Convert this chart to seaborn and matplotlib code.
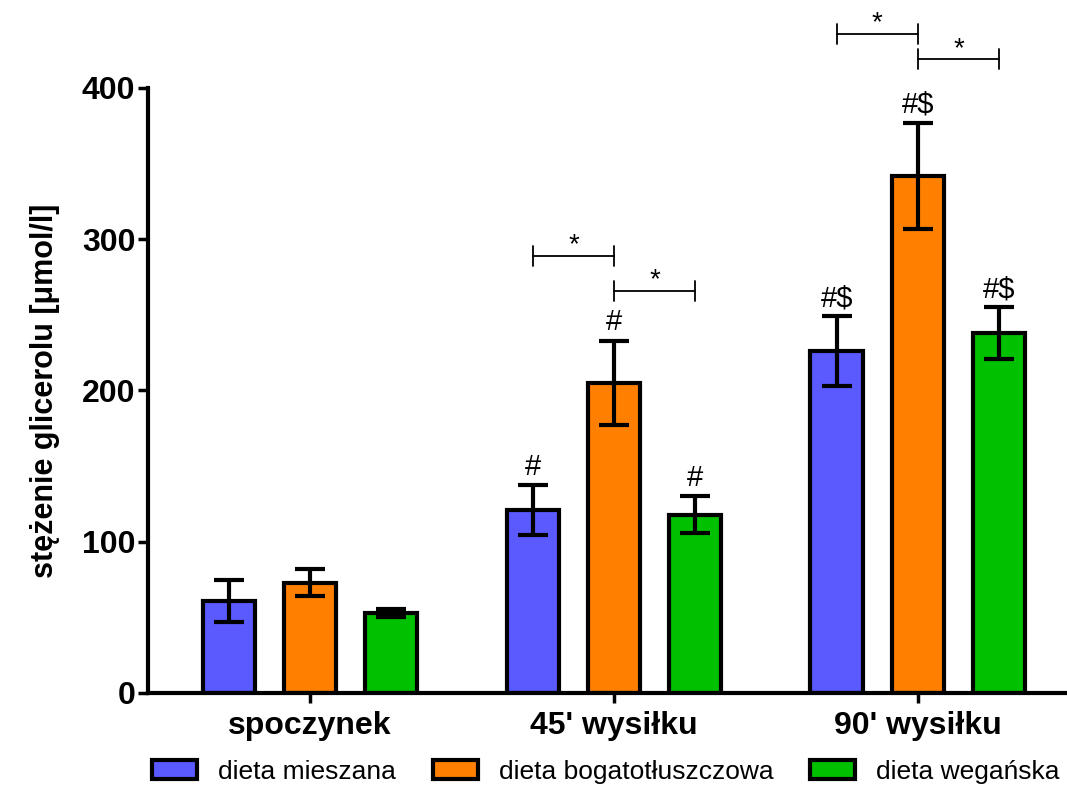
import seaborn as sns
import pandas as pd
import matplotlib.pyplot as plt
import matplotlib.patches as mpatches

# dane
czasy = ["spoczynek", "45' wysiłku", "90' wysiłku"]
diety = ["dieta mieszana", "dieta bogatotłuszczowa", "dieta wegańska"]
kolory = ["#5a5aff", "#ff8000", "#00c000"]

srednie_mieszana = [61, 121, 226]
srednie_bogatotl = [73, 205, 342]
srednie_weganska = [53, 118, 238]

blad_mieszana = [14, 16.5, 23]
blad_bogatotl = [9, 28, 35]
blad_weganska = [2.5, 12, 17]

# znaczniki nad słupkami (dla każdego czasu)
znaczniki = ["", "#", "#$"]
# klamry z gwiazdką: (indeks czasu, dieta od, dieta do, poziom y)
klamry_czas = [1, 1, 2, 2]
klamry_od = [0, 1, 0, 1]
klamry_do = [1, 2, 1, 2]
klamry_y = [289, 266, 436, 419]

df = pd.DataFrame({
    'czas': czasy * 3,
    'dieta': [d for d in diety for _ in czasy],
    'stezenie': srednie_mieszana + srednie_bogatotl + srednie_weganska,
    'blad': blad_mieszana + blad_bogatotl + blad_weganska,
})

sns.set_style('ticks')
plt.rcParams['font.family'] = ['Liberation Sans', 'DejaVu Sans']
plt.rcParams['text.color'] = 'black'
plt.rcParams['axes.labelcolor'] = 'black'
plt.rcParams['axes.edgecolor'] = 'black'
plt.rcParams['xtick.color'] = 'black'
plt.rcParams['ytick.color'] = 'black'

fig = plt.figure(figsize=(10.67, 7.85), dpi=100)
ax = fig.add_axes([0.1387, 0.1172, 0.8594, 0.7707])

sns.barplot(data=df, x='czas', y='stezenie', hue='dieta', order=czasy, hue_order=diety,
            palette=kolory, width=0.8, gap=0.35, errorbar=None, edgecolor='black',
            linewidth=3, saturation=1, legend=False, ax=ax)

# pozycje środków słupków: patches idą po hue, potem po czasie
srodki = {}
for i, d in enumerate(diety):
    for j, c in enumerate(czasy):
        p = ax.patches[i * len(czasy) + j]
        srodki[(i, j)] = p.get_x() + p.get_width() / 2

for i, d in enumerate(diety):
    sub = df[df['dieta'] == d]
    xs = [srodki[(i, j)] for j in range(len(czasy))]
    ax.errorbar(xs, sub['stezenie'], yerr=sub['blad'], fmt='none', ecolor='black',
                elinewidth=3, capsize=10.5, capthick=3, zorder=3)
    for j in range(len(czasy)):
        if znaczniki[j]:
            top = sub['stezenie'].iloc[j] + sub['blad'].iloc[j]
            ax.annotate(znaczniki[j], (xs[j], top), xytext=(0, 3), textcoords='offset points',
                        ha='center', va='bottom', fontsize=21, annotation_clip=False)

for c, a, b, y in zip(klamry_czas, klamry_od, klamry_do, klamry_y):
    x1, x2 = srodki[(a, c)], srodki[(b, c)]
    ax.plot([x1, x2], [y, y], color='black', lw=1.3, clip_on=False)
    ax.plot([x1, x1], [y - 6.6, y + 6.6], color='black', lw=1.3, clip_on=False)
    ax.plot([x2, x2], [y - 6.6, y + 6.6], color='black', lw=1.3, clip_on=False)
    ax.annotate('*', ((x1 + x2) / 2, y), xytext=(0, -2), textcoords='offset points',
                ha='center', va='bottom', fontsize=20, annotation_clip=False)

ax.set_ylim(0, 400)
ax.set_xlim(-0.533, 2.484)
ax.set_yticks([0, 100, 200, 300, 400])
ax.set_xlabel('')
ax.set_ylabel('stężenie glicerolu [μmol/l]', fontsize=22, fontweight='bold', labelpad=16)
ax.tick_params(axis='y', labelsize=23, width=2.5, length=7, pad=2)
ax.tick_params(axis='x', labelsize=23, width=2.5, length=7, pad=6)
for lab in ax.get_yticklabels() + ax.get_xticklabels():
    lab.set_fontweight('bold')

sns.despine(ax=ax)
ax.spines['left'].set_linewidth(3)
ax.spines['bottom'].set_linewidth(3)

uchwyty = [mpatches.Patch(facecolor=k, edgecolor='black', linewidth=3) for k in kolory]
fig.legend(uchwyty, diety, loc='center', bbox_to_anchor=(0.568, 0.017), ncol=3, frameon=False,
           fontsize=19, handlelength=1.7, handleheight=0.75, handletextpad=0.8,
           columnspacing=1.4)

plt.savefig('out.png', dpi=100)
